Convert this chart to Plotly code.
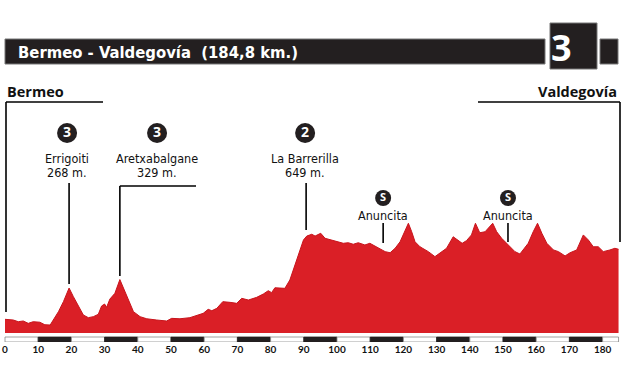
import plotly.graph_objects as go

# ---------------- data ----------------
km = [0, 2.5, 4.0, 5.5, 7.0, 8.5, 10.5, 12.0, 13.6, 14.6, 16.1, 17.6, 19.3, 20.6, 22.1, 23.6,
      25.1, 26.6, 28.1, 29.1, 30.0, 30.6, 31.6, 33.1, 34.6, 36.1, 37.7, 38.7, 40.7, 42.7,
      45.7, 48.7, 50.2, 52.7, 55.7, 57.7, 59.7, 61.2, 62.3, 63.8, 65.6, 67.8, 69.8, 71.3,
      73.3, 75.8, 77.8, 79.3, 80.3, 81.3, 84.3, 85.8, 87.9, 88.9, 89.9, 90.9, 92.4, 93.4,
      95.1, 96.4, 98.4, 99.9, 101.9, 103.4, 104.9, 106.4, 108.4, 109.9, 112.0, 114.5, 116.0,
      117.5, 119.0, 120.2, 121.5, 122.5, 123.5, 125.0, 127.5, 129.5, 131.0, 133.0, 135.0,
      136.5, 137.7, 139.0, 140.5, 141.7, 143.0, 144.6, 145.6, 146.9, 148.1, 149.6, 151.6,
      153.6, 155.1, 156.3, 157.6, 159.1, 160.4, 161.7, 163.2, 165.2, 166.7, 168.7, 170.2,
      172.2, 174.2, 175.7, 177.2, 178.7, 180.2, 182.2, 183.7, 184.8]
elev = [43, 38, 26, 31, 14, 26, 22, 4, 2, 38, 98, 170, 268, 206, 134, 74,
        55, 62, 79, 139, 153, 129, 189, 230, 329, 242, 158, 98, 62, 47,
        38, 31, 50, 47, 55, 69, 86, 115, 105, 122, 170, 165, 158, 194,
        182, 201, 225, 249, 235, 270, 266, 326, 470, 554, 614, 642, 655, 642,
        662, 626, 614, 601, 590, 594, 583, 594, 578, 590, 565, 530, 522,
        554, 601, 662, 734, 673, 601, 565, 530, 494, 518, 554, 637,
        614, 590, 609, 650, 734, 666, 673, 698, 734, 673, 626, 578,
        530, 513, 554, 590, 673, 734, 662, 590, 542, 530, 499, 522,
        542, 650, 614, 565, 565, 530, 542, 554, 547]

tick_km = [0, 10, 20, 30, 40, 50, 60, 70, 80, 90, 100, 110, 120, 130, 140, 150, 160, 170, 180]
tick_labels = [str(k) for k in tick_km]
stage_total_km = 184.8

climb_names = ["Errigoiti", "Aretxabalgane", "La Barrerilla", "Anuncita", "Anuncita"]
climb_alts = ["268 m.", "329 m.", "649 m.", "", ""]
climb_cats = ["3", "3", "2", "S", "S"]
climb_km = [19.3, 34.6, 90.7, 113.9, 151.5]

start_town = "Bermeo"
finish_town = "Valdegovía"
stage_title = "Bermeo - Valdegovía  (184,8 km.)"
stage_number = "3"

# ---------------- styling / layout constants ----------------
W, H = 624, 385
PB = 342                      # bottom of plot area in pixels
PX0, PXK = 5.0, 3.32          # pixel of km 0, pixels per km
Y0PX, PXM = 325.3, 0.139      # pixel of 0 m, pixels per metre
BASE_M = -55                  # bottom of red area
RED = "#da1f26"
DARK = "#231f20"
NARROW = "DejaVu Sans Condensed, Liberation Sans Narrow, Roboto, sans-serif"

xr = [-PX0 / PXK, (W - PX0) / PXK]
yr = [(Y0PX - PB) / PXM, Y0PX / PXM]


def kx(px):
    return (px - PX0) / PXK


fig = go.Figure()
fig.add_trace(go.Scatter(x=[0, stage_total_km], y=[BASE_M, BASE_M], mode="lines",
                         line=dict(width=0, color=RED), hoverinfo="skip", showlegend=False))
fig.add_trace(go.Scatter(x=km, y=elev, mode="lines", fill="tonexty", fillcolor=RED,
                         line=dict(color="#c8141c", width=1), hoverinfo="skip", showlegend=False))

shapes = []
annotations = []

# distance bar
edges = tick_km + [stage_total_km]
for i in range(len(edges) - 1):
    black = i % 2 == 1
    shapes.append(dict(type="rect", xref="x", yref="y2", x0=edges[i], x1=edges[i + 1],
                       y0=337, y1=342, fillcolor=DARK if black else "white",
                       line=dict(color="#888888" if not black else DARK, width=0.8)))

# climb markers, labels and leader lines
label_offsets = [-0.6, 11.2, -0.3, 0, 0]
circle_y = [133, 133, 133, 198, 198]
name_y = [158, 158, 158, 215, 215]
line_y = [(183, 284), (186, 276), (183, 230), (223, 243), (223, 242)]
lab_x = [c + o for c, o in zip(climb_km, label_offsets)]

for i, name in enumerate(climb_names):
    annotations.append(dict(x=lab_x[i], y=name_y[i], xref="x", yref="y2", text=name,
                            showarrow=False, font=dict(family=NARROW, size=12.5, color="#111")))
    if climb_alts[i]:
        annotations.append(dict(x=lab_x[i], y=172.5, xref="x", yref="y2", text=climb_alts[i],
                                showarrow=False, font=dict(family=NARROW, size=12.5, color="#111")))
    y0, y1 = line_y[i]
    shapes.append(dict(type="line", xref="x", yref="y2", x0=climb_km[i], x1=climb_km[i],
                       y0=y0, y1=y1, line=dict(color="black", width=1.6)))

# elbow for Aretxabalgane
shapes.append(dict(type="line", xref="x", yref="y2", x0=climb_km[1], x1=kx(196),
                   y0=186, y1=186, line=dict(color="black", width=1.6)))

big = [c != "S" for c in climb_cats]
fig.add_trace(go.Scatter(x=[lab_x[i] for i in range(5) if big[i]],
                         y=[circle_y[i] for i in range(5) if big[i]], yaxis="y2",
                         mode="markers+text", marker=dict(size=20, color=DARK),
                         text=[climb_cats[i] for i in range(5) if big[i]],
                         textposition="middle center",
                         textfont=dict(family="Open Sans", size=14, color="white", weight="bold"),
                         hoverinfo="skip", showlegend=False))
fig.add_trace(go.Scatter(x=[lab_x[i] for i in range(5) if not big[i]],
                         y=[circle_y[i] for i in range(5) if not big[i]], yaxis="y2",
                         mode="markers+text", marker=dict(size=16, color=DARK),
                         text=[climb_cats[i] for i in range(5) if not big[i]],
                         textposition="middle center",
                         textfont=dict(family="Open Sans", size=11, color="white", weight="bold"),
                         hoverinfo="skip", showlegend=False))

# start / finish towns
annotations.append(dict(x=5 / W, y=91, xref="paper", yref="y2", xanchor="left", text=start_town,
                        showarrow=False, font=dict(family="Open Sans", size=14.5, color="#111", weight="bold")))
annotations.append(dict(x=619 / W, y=91, xref="paper", yref="y2", xanchor="right", text=finish_town,
                        showarrow=False, font=dict(family="Open Sans", size=14.5, color="#111", weight="bold")))
shapes.append(dict(type="line", xref="paper", yref="y2", x0=6 / W, x1=103 / W, y0=102, y1=102,
                   line=dict(color="black", width=1.6)))
shapes.append(dict(type="line", xref="paper", yref="y2", x0=6 / W, x1=6 / W, y0=102, y1=312,
                   line=dict(color="black", width=1.6)))
shapes.append(dict(type="line", xref="paper", yref="y2", x0=478 / W, x1=620 / W, y0=102, y1=102,
                   line=dict(color="black", width=1.6)))
shapes.append(dict(type="line", xref="paper", yref="y2", x0=620 / W, x1=620 / W, y0=102, y1=242,
                   line=dict(color="black", width=1.6)))

# title bar
shapes.append(dict(type="rect", xref="paper", yref="y2", x0=5 / W, x1=545 / W, y0=39, y1=64,
                   fillcolor=DARK, line=dict(color="#777", width=1)))
shapes.append(dict(type="rect", xref="paper", yref="y2", x0=550 / W, x1=597 / W, y0=23, y1=69,
                   fillcolor=DARK, line=dict(color="#777", width=1)))
shapes.append(dict(type="rect", xref="paper", yref="y2", x0=600 / W, x1=618 / W, y0=39, y1=64,
                   fillcolor=DARK, line=dict(color="#777", width=1)))
annotations.append(dict(x=16 / W, y=52, xref="paper", yref="y2", xanchor="left", text=stage_title,
                        showarrow=False, font=dict(family=NARROW, size=16.5, color="white", weight="bold")))
annotations.append(dict(x=573.5 / W, y=47, xref="paper", yref="y2", text=stage_number,
                        showarrow=False, font=dict(family="Open Sans", size=36, color="white", weight="bold")))

fig.update_layout(
    width=W, height=H, margin=dict(l=0, r=0, t=0, b=H - PB, pad=0),
    paper_bgcolor="white", plot_bgcolor="white",
    xaxis=dict(range=xr, tickvals=tick_km, ticktext=tick_labels, showgrid=False, zeroline=False,
               showline=False, ticks="", tickfont=dict(family="Lato", size=10, color="#111", weight="bold"),
               fixedrange=True),
    yaxis=dict(range=yr, visible=False, fixedrange=True),
    yaxis2=dict(range=[PB, 0], overlaying="y", visible=False, fixedrange=True),
    shapes=shapes, annotations=annotations, showlegend=False,
)

fig.write_html("out.html", config=dict(displayModeBar=False),
               post_script="document.body.style.margin='0';document.body.style.overflow='hidden';")
